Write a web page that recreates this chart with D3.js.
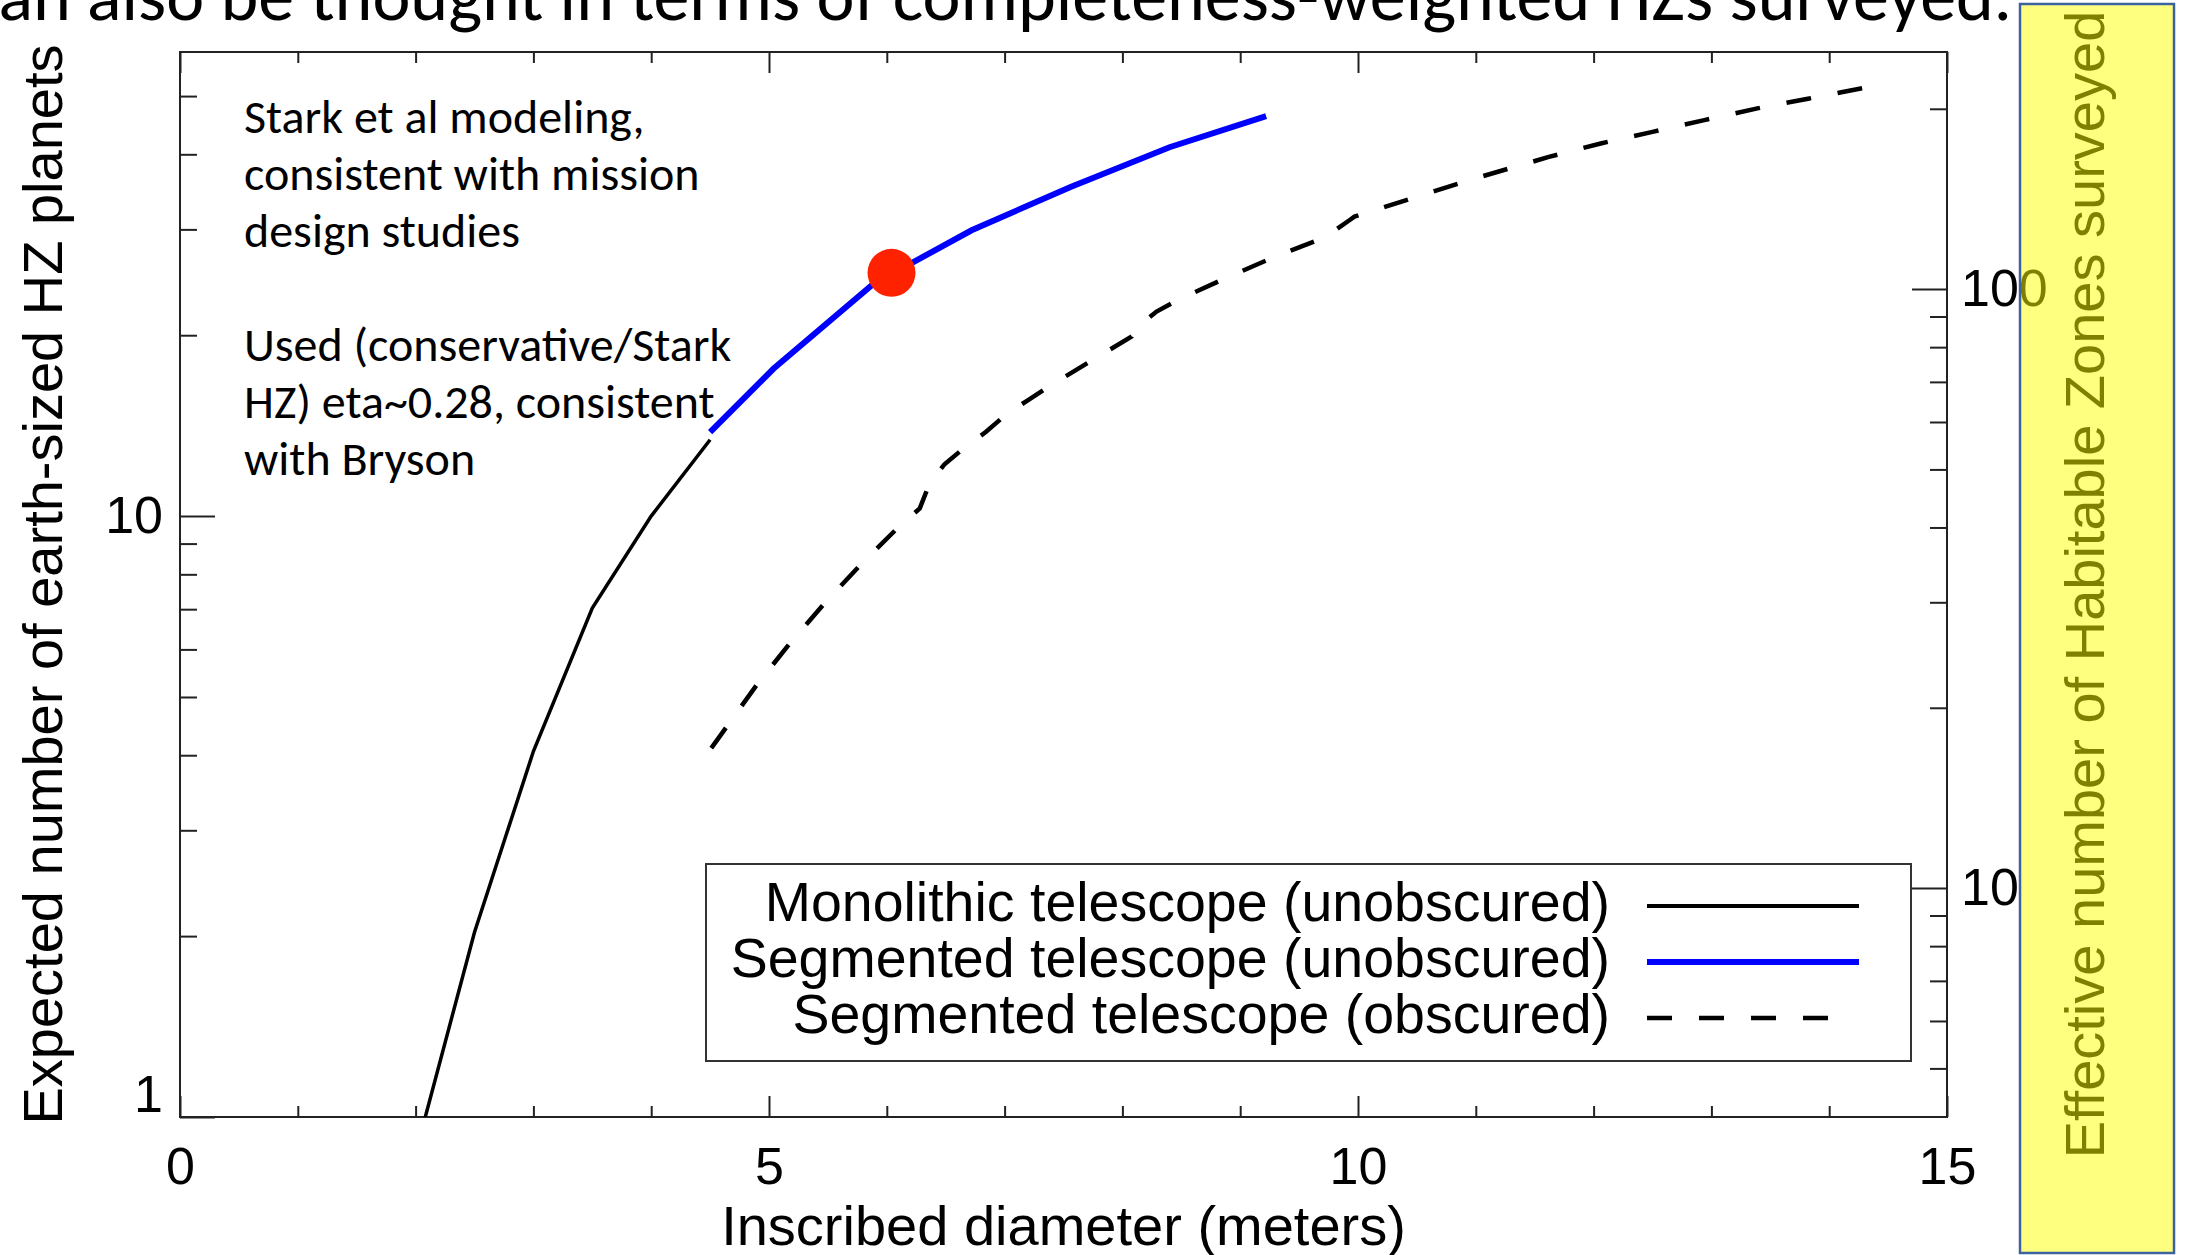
<!DOCTYPE html>
<html lang="en">
<head>
<meta charset="utf-8">
<title>Expected number of earth-sized HZ planets vs inscribed diameter</title>
<script src="https://d3js.org/d3.v7.min.js"></script>
<style>
  html, body { margin: 0; padding: 0; background: #fff; overflow: hidden; }
  .axis text { font-family: "Liberation Sans", Arial, Helvetica, sans-serif; font-size: 52px; fill: #000; }
  .axis line { stroke: #222; stroke-width: 2; }
  .axis path { display: none; }
  .title { font-family: "Liberation Sans", Arial, Helvetica, sans-serif; font-size: 56px; fill: #000; }
  .note { font-family: Carlito, Lato, "Open Sans", sans-serif; font-size: 48px; fill: #000; }
</style>
</head>
<body>
<script>
// ---- data ----
const xMajor = [0, 5, 10, 15];
const xMinor = [1, 2, 3, 4, 6, 7, 8, 9, 11, 12, 13, 14];
const leftMajor = [1, 10];
const leftMinor = [2, 3, 4, 5, 6, 7, 8, 9, 20, 30, 40, 50];
const rightMajor = [10, 100];
const rightMinor = [5, 6, 7, 8, 9, 20, 30, 40, 50, 60, 70, 80, 90, 200];

// monolithic telescope (unobscured)
const monoD = [2.0, 2.5, 3.0, 3.5, 4.0, 4.5];
const monoN = [0.87, 2.03, 4.06, 7.03, 10.0, 13.4];
// segmented telescope (unobscured)
const segD = [4.5, 5.04, 5.88, 6.72, 7.56, 8.40, 9.22];
const segN = [13.8, 17.6, 24.3, 29.9, 35.3, 41.1, 46.3];
// segmented telescope (obscured)
const obsD = [4.51, 4.90, 5.18, 5.48, 5.79, 6.10, 6.28, 6.36, 6.49, 6.66, 6.84, 7.02, 7.20, 7.39,
              7.77, 8.08, 8.12, 8.29, 8.49, 8.90, 9.31, 9.72, 9.93, 9.97, 10.12, 10.54, 10.98,
              11.62, 12.06, 12.50, 12.94, 13.39, 13.82, 14.34];
const obsN = [4.11, 5.25, 6.15, 7.19, 8.35, 9.59, 10.3, 11.3, 12.2, 13.0, 13.8, 14.8, 15.6, 16.5,
              18.3, 19.9, 20.6, 21.9, 23.0, 25.0, 27.1, 29.1, 31.1, 31.5, 32.2, 34.2, 36.4,
              39.6, 41.7, 43.6, 45.6, 47.7, 49.5, 51.8];
// highlighted design point
const dotD = [6.04];
const dotN = [25.4];

const legendLabels = ["Monolithic telescope (unobscured)", "Segmented telescope (unobscured)", "Segmented telescope (obscured)"];
const noteLines = ["Stark et al modeling,", "consistent with mission", "design studies", "",
                   "Used (conservative/Stark", "HZ) eta~0.28, consistent", "with Bryson"];

// ---- layout ----
const W = 2189, H = 1255;
const L = 180, R = 1947, T = 52, B = 1117;

const svg = d3.select("body").append("svg")
  .attr("width", W).attr("height", H);

const x = d3.scaleLinear().domain([0, 15]).range([L, R]);
const y = d3.scaleLog().domain([1, 59.2]).range([B, T]);
const yR = d3.scaleLog().domain([4.148, 248.8]).range([B, T]);

// slide title, clipped at the top and left of the picture
svg.append("text")
  .attr("x", 2012).attr("y", 20)
  .attr("text-anchor", "end")
  .style("font-family", "Carlito, Lato, 'Open Sans', sans-serif")
  .style("font-size", "72px")
  .text("can also be thought in terms of completeness-weighted HZs surveyed.");

// plot clip
svg.append("clipPath").attr("id", "plotclip")
  .append("rect").attr("x", L).attr("y", T).attr("width", R - L).attr("height", B - T);

// frame
svg.append("rect")
  .attr("x", L).attr("y", T).attr("width", R - L).attr("height", B - T)
  .attr("fill", "none").attr("stroke", "#222").attr("stroke-width", 2);

// bottom axis
svg.append("g").attr("class", "axis").attr("transform", `translate(0,${B})`)
  .call(d3.axisBottom(x).tickValues(xMajor).tickSizeInner(-21).tickSizeOuter(0).tickPadding(30).tickFormat(d3.format("d")));
svg.append("g").attr("class", "axis").attr("transform", `translate(0,${B})`)
  .call(d3.axisBottom(x).tickValues(xMinor).tickSizeInner(-11).tickSizeOuter(0).tickFormat(""));
// top axis
svg.append("g").attr("class", "axis").attr("transform", `translate(0,${T})`)
  .call(d3.axisTop(x).tickValues(xMajor).tickSizeInner(-21).tickSizeOuter(0).tickFormat(""));
svg.append("g").attr("class", "axis").attr("transform", `translate(0,${T})`)
  .call(d3.axisTop(x).tickValues(xMinor).tickSizeInner(-11).tickSizeOuter(0).tickFormat(""));

// left axis
const leftAx = svg.append("g").attr("class", "axis").attr("transform", `translate(${L},0)`)
  .call(d3.axisLeft(y).tickValues(leftMajor).tickSizeInner(-35).tickSizeOuter(0).tickPadding(17).tickFormat(d3.format("d")));
leftAx.selectAll(".tick").filter(d => d === 1).select("text").attr("dy", "-0.1em");
svg.append("g").attr("class", "axis").attr("transform", `translate(${L},0)`)
  .call(d3.axisLeft(y).tickValues(leftMinor).tickSizeInner(-17).tickSizeOuter(0).tickFormat(""));

// right axis
svg.append("g").attr("class", "axis").attr("transform", `translate(${R},0)`)
  .call(d3.axisRight(yR).tickValues(rightMajor).tickSizeInner(-35).tickSizeOuter(0).tickPadding(14).tickFormat(d3.format("d")));
svg.append("g").attr("class", "axis").attr("transform", `translate(${R},0)`)
  .call(d3.axisRight(yR).tickValues(rightMinor).tickSizeInner(-17).tickSizeOuter(0).tickFormat(""));

// axis titles
svg.append("text").attr("class", "title")
  .attr("x", (L + R) / 2).attr("y", 1245).attr("text-anchor", "middle")
  .text("Inscribed diameter (meters)");
svg.append("text").attr("class", "title")
  .attr("transform", `translate(62,${(T + B) / 2}) rotate(-90)`).attr("text-anchor", "middle")
  .text("Expected number of earth-sized HZ planets");
svg.append("text").attr("class", "title")
  .attr("transform", `translate(2104,${(T + B) / 2}) rotate(-90)`).attr("text-anchor", "middle")
  .text("Effective number of Habitable Zones surveyed");

// curves
const line = d3.line().x(d => x(d[0])).y(d => y(d[1]));
const plot = svg.append("g").attr("clip-path", "url(#plotclip)");

plot.append("path").datum(d3.zip(monoD, monoN))
  .attr("d", line).attr("fill", "none").attr("stroke", "#000").attr("stroke-width", 3.5);
plot.append("path").datum(d3.zip(obsD, obsN))
  .attr("d", line).attr("fill", "none").attr("stroke", "#000").attr("stroke-width", 4.5)
  .attr("stroke-dasharray", "25,27");
plot.append("path").datum(d3.zip(segD, segN))
  .attr("d", line).attr("fill", "none").attr("stroke", "#0000ff").attr("stroke-width", 6);
plot.selectAll("circle.dot").data(d3.zip(dotD, dotN)).enter().append("circle")
  .attr("class", "dot")
  .attr("cx", d => x(d[0])).attr("cy", d => y(d[1])).attr("r", 24)
  .attr("fill", "#ff2200");

// annotation
svg.append("text").attr("class", "note")
  .selectAll("tspan").data(noteLines).enter().append("tspan")
  .attr("x", 244).attr("y", (d, i) => 133 + i * 57)
  .text(d => d);

// legend
const leg = svg.append("g");
leg.append("rect").attr("x", 706).attr("y", 864).attr("width", 1205).attr("height", 197)
  .attr("fill", "#fff").attr("stroke", "#333").attr("stroke-width", 2);
const legStyles = [
  { stroke: "#000", width: 4, dash: null, end: 1859 },
  { stroke: "#0000ff", width: 6, dash: null, end: 1859 },
  { stroke: "#000", width: 4.5, dash: "25,27", end: 1832 }
];
legendLabels.forEach((lab, i) => {
  const cy = 906 + i * 56;
  leg.append("text").attr("class", "title")
    .attr("x", 1610).attr("y", cy + 15).attr("text-anchor", "end").style("font-size", "55.5px")
    .text(lab);
  leg.append("line").attr("x1", 1647).attr("x2", legStyles[i].end).attr("y1", cy).attr("y2", cy)
    .attr("stroke", legStyles[i].stroke).attr("stroke-width", legStyles[i].width)
    .attr("stroke-dasharray", legStyles[i].dash);
});

// translucent yellow box over the right-hand axis title
svg.append("rect")
  .attr("x", 2020).attr("y", 4).attr("width", 154).attr("height", 1249)
  .attr("fill", "#ffff00").attr("fill-opacity", 0.5)
  .attr("stroke", "#3d62a0").attr("stroke-width", 2.5);
</script>
</body>
</html>
